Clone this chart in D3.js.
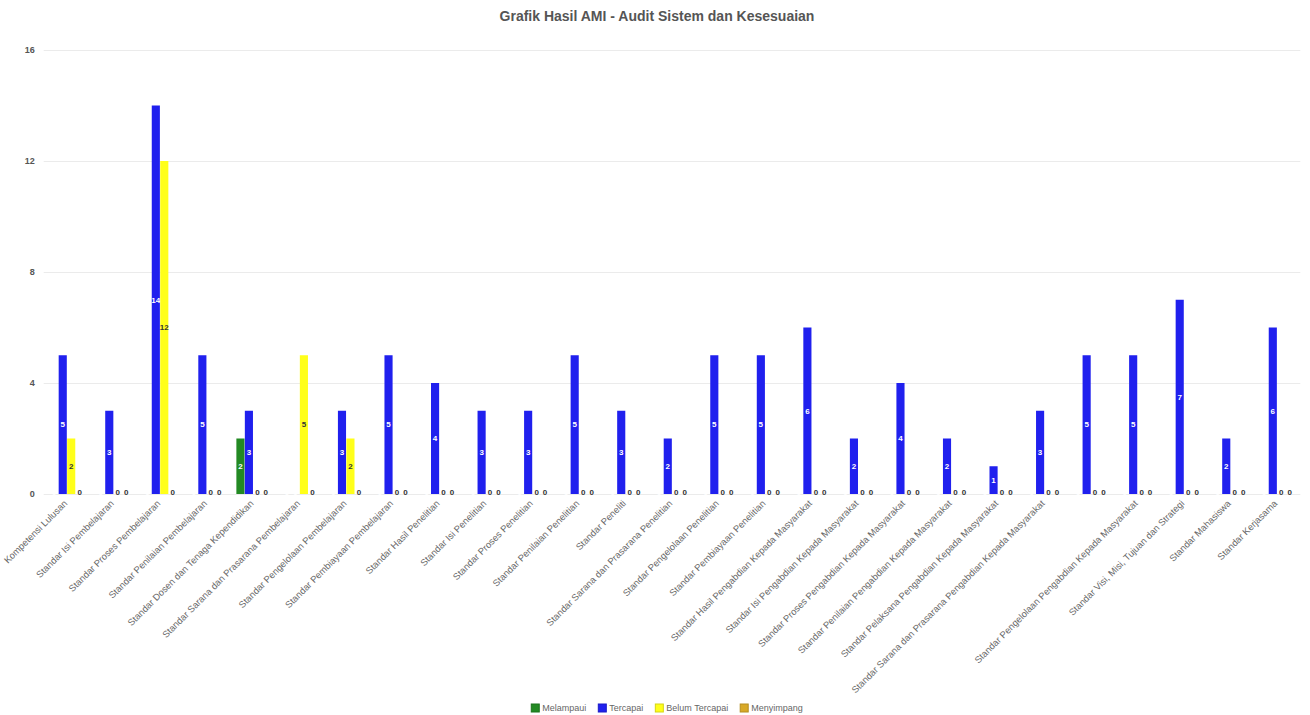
<!DOCTYPE html>
<html>
<head>
<meta charset="utf-8">
<script src="https://cdn.jsdelivr.net/npm/d3@7/dist/d3.min.js"></script>
<style>
  html, body { margin: 0; padding: 0; background: #fff; }
  svg { display: block; font-family: "Liberation Sans", Arial, Helvetica, sans-serif; }
</style>
</head>
<body>
<svg id="chart" width="1310" height="715"></svg>
<script>
const categories = [
  "Kompetensi Lulusan",
  "Standar Isi Pembelajaran",
  "Standar Proses Pembelajaran",
  "Standar Penilaian Pembelajaran",
  "Standar Dosen dan Tenaga Kependidikan",
  "Standar Sarana dan Prasarana Pembelajaran",
  "Standar Pengelolaan Pembelajaran",
  "Standar Pembiayaan Pembelajaran",
  "Standar Hasil Penelitian",
  "Standar Isi Penelitian",
  "Standar Proses Penelitian",
  "Standar Penilaian Penelitian",
  "Standar Peneliti",
  "Standar Sarana dan Prasarana Penelitian",
  "Standar Pengelolaan Penelitian",
  "Standar Pembiayaan Penelitian",
  "Standar Hasil Pengabdian Kepada Masyarakat",
  "Standar Isi Pengabdian Kepada Masyarakat",
  "Standar Proses Pengabdian Kepada Masyarakat",
  "Standar Penilaian Pengabdian Kepada Masyarakat",
  "Standar Pelaksana Pengabdian Kepada Masyarakat",
  "Standar Sarana dan Prasarana Pengabdian Kepada Masyarakat",
  "",
  "Standar Pengelolaan Pengabdian Kepada Masyarakat",
  "Standar Visi, Misi, Tujuan dan Strategi",
  "Standar Mahasiswa",
  "Standar Kerjasama"
];

const seriesNames = ["Melampaui", "Tercapai", "Belum Tercapai", "Menyimpang"];

const melampaui     = [0,0,0,0,2,0,0,0,0,0,0,0,0,0,0,0,0,0,0,0,0,0,0,0,0,0,0];
const tercapai      = [5,3,14,5,3,0,3,5,4,3,3,5,3,2,5,5,6,2,4,2,1,3,5,5,7,2,6];
const belumTercapai = [2,0,12,0,0,5,2,0,0,0,0,0,0,0,0,0,0,0,0,0,0,0,0,0,0,0,0];
const menyimpang    = [0,0,0,0,0,0,0,0,0,0,0,0,0,0,0,0,0,0,0,0,0,0,0,0,0,0,0];

const yTicks = [0, 4, 8, 12, 16];
const titleText = "Grafik Hasil AMI - Audit Sistem dan Kesesuaian";

const seriesValues = [melampaui, tercapai, belumTercapai, menyimpang];
const colors = ["#238a23", "#2020ee", "#ffff1a", "#d8a928"];
const labelColors = ["#ffffff", "#ffffff", "#333333", "#333333"];

const svg = d3.select("#chart");
const plot = { left: 43.7, right: 1300.3, top: 50, bottom: 494 };

const x = d3.scaleBand().domain(d3.range(categories.length)).range([plot.left, plot.right]).padding(0);
const bw = x.bandwidth();
const xs = d3.scaleBand().domain(d3.range(seriesNames.length))
  .range([bw * 0.14, bw * 0.86]).paddingInner(0.04);
const y = d3.scaleLinear().domain([0, 16]).range([plot.bottom, plot.top]);

// title
svg.append("text")
  .attr("x", 657).attr("y", 21)
  .attr("text-anchor", "middle")
  .attr("font-size", 14).attr("font-weight", "bold")
  .attr("fill", "#555")
  .text(titleText);

// grid
const yAxis = d3.axisLeft(y).tickValues(yTicks).tickSize(-(plot.right - plot.left)).tickPadding(9);
const gy = svg.append("g").attr("transform", `translate(${plot.left},0)`).call(yAxis);
gy.select(".domain").remove();
gy.selectAll(".tick line").attr("stroke", "#ebebeb");
gy.selectAll(".tick text").attr("font-size", 9).attr("font-weight", "bold").attr("fill", "#555")
  .attr("font-family", "Liberation Sans, Arial, sans-serif");

// bars
const data = [];
categories.forEach((c, i) => {
  seriesNames.forEach((s, j) => {
    data.push({ i, j, v: seriesValues[j][i] });
  });
});

svg.append("g").selectAll("rect")
  .data(data.filter(d => d.v > 0))
  .join("rect")
  .attr("x", d => x(d.i) + xs(d.j))
  .attr("width", xs.bandwidth())
  .attr("y", d => y(d.v))
  .attr("height", d => y(0) - y(d.v))
  .attr("fill", d => colors[d.j]);

// value labels
svg.append("g").selectAll("text")
  .data(data)
  .join("text")
  .attr("x", d => x(d.i) + xs(d.j) + xs.bandwidth() / 2)
  .attr("y", d => d.v > 0 ? y(d.v / 2) : y(0) - 2)
  .attr("dy", "0.35em")
  .attr("text-anchor", "middle")
  .attr("font-size", 8).attr("font-weight", "bold")
  .attr("fill", d => labelColors[d.j])
  .text(d => d.v);

// x labels
const gx = svg.append("g");
categories.forEach((c, i) => {
  gx.append("text")
    .attr("transform", `translate(${x(i) + bw / 2 + 1},${plot.bottom + 10}) rotate(-45)`)
    .attr("text-anchor", "end")
    .attr("font-size", 9.4)
    .attr("fill", "#666")
    .text(c);
});

// legend
const leg = svg.append("g");
const items = [];
seriesNames.forEach((s, j) => {
  const g = leg.append("g");
  g.append("rect").attr("x", 0).attr("y", -4).attr("width", 8).attr("height", 8)
    .attr("fill", colors[j]).attr("stroke", d3.color(colors[j]).darker(0.5));
  const t = g.append("text").attr("x", 11).attr("y", 0).attr("dy", "0.35em")
    .attr("font-size", 9).attr("fill", "#666").text(s);
  const w = 11 + t.node().getComputedTextLength();
  items.push({ g, w });
});
const gap = 12;
const total = d3.sum(items, d => d.w) + gap * (items.length - 1);
let pos = 667 - total / 2;
items.forEach(it => {
  it.g.attr("transform", `translate(${pos},708)`);
  pos += it.w + gap;
});
</script>
</body>
</html>
